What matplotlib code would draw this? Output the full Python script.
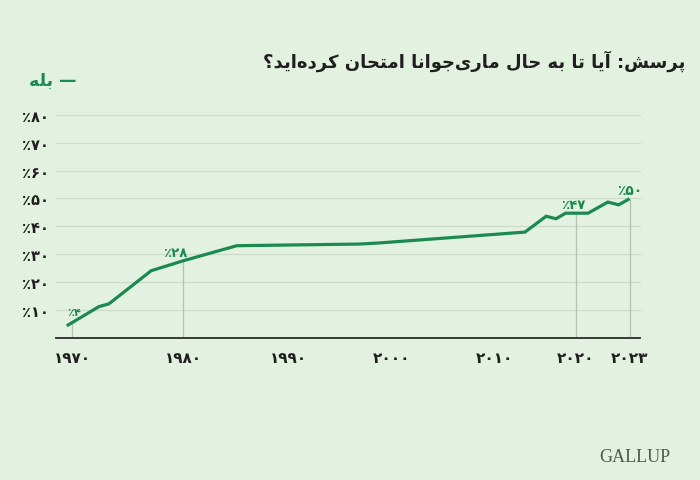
import numpy as np
import matplotlib
matplotlib.use("Agg")
import matplotlib.pyplot as plt

# ---------------- data ----------------
years = [1969.5, 1972.4, 1973.3, 1977.1, 1980.0, 1985.1, 1996.9, 1998.8,
         2013.8, 2016.4, 2017.6, 2018.8, 2020.7, 2021.8, 2022.4, 2023.0]
values = [4.2, 11.1, 12.1, 24.0, 27.6, 33.0, 33.6, 34.0,
          37.9, 43.6, 42.7, 44.7, 44.7, 48.7, 47.7, 49.9]
x_ticks = [1970, 1980, 1990, 2000, 2010, 2020, 2023]
y_ticks = [10, 20, 30, 40, 50, 60, 70, 80]
marker_years = [1970, 1980, 2020, 2023]
annot_years = [1970, 1980, 2020, 2023]
annot_labels = [4, 28, 47, 50]
title_text = "پرسش: آیا تا به حال ماری\u200cجوانا امتحان کرده\u200cاید؟"
legend_text = "بله"
source_text = "GALLUP"

# --------------- Arabic/Persian shaping (no bidi engine in matplotlib) ---------------
FORMS = {
    '\u0621': ('\uFE80', None, None, None),
    '\u0622': ('\uFE81', '\uFE82', None, None),
    '\u0623': ('\uFE83', '\uFE84', None, None),
    '\u0624': ('\uFE85', '\uFE86', None, None),
    '\u0625': ('\uFE87', '\uFE88', None, None),
    '\u0626': ('\uFE89', '\uFE8A', '\uFE8B', '\uFE8C'),
    '\u0627': ('\uFE8D', '\uFE8E', None, None),
    '\u0628': ('\uFE8F', '\uFE90', '\uFE91', '\uFE92'),
    '\u0629': ('\uFE93', '\uFE94', None, None),
    '\u062A': ('\uFE95', '\uFE96', '\uFE97', '\uFE98'),
    '\u062B': ('\uFE99', '\uFE9A', '\uFE9B', '\uFE9C'),
    '\u062C': ('\uFE9D', '\uFE9E', '\uFE9F', '\uFEA0'),
    '\u062D': ('\uFEA1', '\uFEA2', '\uFEA3', '\uFEA4'),
    '\u062E': ('\uFEA5', '\uFEA6', '\uFEA7', '\uFEA8'),
    '\u062F': ('\uFEA9', '\uFEAA', None, None),
    '\u0630': ('\uFEAB', '\uFEAC', None, None),
    '\u0631': ('\uFEAD', '\uFEAE', None, None),
    '\u0632': ('\uFEAF', '\uFEB0', None, None),
    '\u0633': ('\uFEB1', '\uFEB2', '\uFEB3', '\uFEB4'),
    '\u0634': ('\uFEB5', '\uFEB6', '\uFEB7', '\uFEB8'),
    '\u0635': ('\uFEB9', '\uFEBA', '\uFEBB', '\uFEBC'),
    '\u0636': ('\uFEBD', '\uFEBE', '\uFEBF', '\uFEC0'),
    '\u0637': ('\uFEC1', '\uFEC2', '\uFEC3', '\uFEC4'),
    '\u0638': ('\uFEC5', '\uFEC6', '\uFEC7', '\uFEC8'),
    '\u0639': ('\uFEC9', '\uFECA', '\uFECB', '\uFECC'),
    '\u063A': ('\uFECD', '\uFECE', '\uFECF', '\uFED0'),
    '\u0641': ('\uFED1', '\uFED2', '\uFED3', '\uFED4'),
    '\u0642': ('\uFED5', '\uFED6', '\uFED7', '\uFED8'),
    '\u0643': ('\uFED9', '\uFEDA', '\uFEDB', '\uFEDC'),
    '\u0644': ('\uFEDD', '\uFEDE', '\uFEDF', '\uFEE0'),
    '\u0645': ('\uFEE1', '\uFEE2', '\uFEE3', '\uFEE4'),
    '\u0646': ('\uFEE5', '\uFEE6', '\uFEE7', '\uFEE8'),
    '\u0647': ('\uFEE9', '\uFEEA', '\uFEEB', '\uFEEC'),
    '\u0648': ('\uFEED', '\uFEEE', None, None),
    '\u0649': ('\uFEEF', '\uFEF0', None, None),
    '\u064A': ('\uFEF1', '\uFEF2', '\uFEF3', '\uFEF4'),
    '\u067E': ('\uFB56', '\uFB57', '\uFB58', '\uFB59'),
    '\u0686': ('\uFB7A', '\uFB7B', '\uFB7C', '\uFB7D'),
    '\u0698': ('\uFB8A', '\uFB8B', None, None),
    '\u06A9': ('\uFB8E', '\uFB8F', '\uFB90', '\uFB91'),
    '\u06AF': ('\uFB92', '\uFB93', '\uFB94', '\uFB95'),
    '\u06CC': ('\uFBFC', '\uFBFD', '\uFBFE', '\uFBFF'),
}
LAMALEF = {'\u0627': ('\uFEFB', '\uFEFC'), '\u0622': ('\uFEF5', '\uFEF6'),
           '\u0623': ('\uFEF7', '\uFEF8'), '\u0625': ('\uFEF9', '\uFEFA')}


def shape_rtl(text):
    out = []
    n = len(text)
    i = 0
    while i < n:
        c = text[i]
        if c not in FORMS:
            if c != '\u200c':
                out.append(c)
            i += 1
            continue
        prev = text[i - 1] if i > 0 else None
        joins_prev = prev in FORMS and FORMS[prev][2] is not None
        nxt = text[i + 1] if i + 1 < n else None
        if c == '\u0644' and nxt in LAMALEF:
            out.append(LAMALEF[nxt][1 if joins_prev else 0])
            i += 2
            continue
        joins_next = FORMS[c][2] is not None and nxt in FORMS
        iso, fin, ini, med = FORMS[c]
        if joins_prev and joins_next:
            out.append(med)
        elif joins_prev:
            out.append(fin)
        elif joins_next:
            out.append(ini)
        else:
            out.append(iso)
        i += 1
    return ''.join(reversed(out))


FA_DIGITS = str.maketrans('0123456789', '۰۱۲۳۴۵۶۷۸۹')


def fa(n):
    return str(n).translate(FA_DIGITS)


# --------------- styling ---------------
BG = '#e3f1e0'
GREEN = '#1a8a4e'
GRID = '#cddbcb'
DARK = '#1f1f1f'
plt.rcParams['font.family'] = ['DejaVu Sans']

# piecewise axis used by the original infographic (decades are not evenly spaced)
knot_years = np.array([1900, 1970, 1980, 1990, 2000, 2010, 2020, 2023, 2100], float)
knot_pos = np.array([72.3 - 70 * 11.1, 72.3, 183.3, 288, 392, 494, 575.5, 629.5,
                     629.5 + 77 * 18], float)


def fwd(x):
    return np.interp(x, knot_years, knot_pos)


def inv(p):
    return np.interp(p, knot_pos, knot_years)


W, H = 700, 481
fig = plt.figure(figsize=(W / 100, H / 100), dpi=100, facecolor=BG)
ax_left, ax_right = 56, 640
ax_bottom, ax_top = 338.5, 116.0
ax = fig.add_axes([ax_left / W, 1 - ax_bottom / H, (ax_right - ax_left) / W,
                   (ax_bottom - ax_top) / H])
ax.set_facecolor(BG)
ax.set_xscale('function', functions=(fwd, inv))
ax.set_xlim(inv(ax_left), inv(ax_right))
ax.set_ylim(0, 80)

for s in ['top', 'right', 'left']:
    ax.spines[s].set_visible(False)
ax.spines['bottom'].set_color('#2b2b2b')
ax.spines['bottom'].set_linewidth(1.3)

for v in y_ticks:
    ax.axhline(v, color=GRID, lw=0.9, zorder=1, clip_on=False)

line_at = np.interp(marker_years, years, values)
for yr, top in zip(marker_years, line_at):
    ax.plot([yr, yr], [0, top], color='#b4c1b3', lw=0.9, zorder=2)

ax.plot(years, values, color=GREEN, lw=2.3, zorder=3, solid_joinstyle='miter',
        solid_capstyle='butt')

ax.set_yticks(y_ticks)
ax.set_yticklabels(['٪' + fa(v) for v in y_ticks])
ax.set_xticks(x_ticks)
ax.set_xticklabels([fa(v) for v in x_ticks])
ax.tick_params(axis='y', length=0, pad=5, labelsize=10.5, labelcolor=DARK)
ax.tick_params(axis='x', length=0, pad=9, labelsize=11, labelcolor=DARK)
for lab in ax.get_yticklabels() + ax.get_xticklabels():
    lab.set_fontweight('bold')

annot_line = np.interp(annot_years, years, values)
offsets = [(2, 11), (-8, 8), (-2, 9), (0, 9)]
sizes = [8, 9.5, 9.5, 10]
for yr, yv, lab, off, fs in zip(annot_years, annot_line, annot_labels, offsets, sizes):
    ax.annotate('٪' + fa(lab), xy=(yr, yv), xytext=off, textcoords='offset pixels',
                ha='center', va='center', color=GREEN, fontsize=fs,
                fontweight='bold', zorder=4)

fig.text(685 / W, 1 - 61 / H, shape_rtl(title_text), ha='right', va='center',
         fontsize=13, fontweight='bold', color=DARK)
fig.text(29 / W, 1 - 81 / H, shape_rtl(legend_text) + ' —', ha='left', va='center',
         fontsize=12.5, fontweight='bold', color=GREEN)
fig.text(670 / W, 1 - 458 / H, source_text, ha='right', va='center',
         fontsize=13, family='Liberation Serif', color='#4d5a50')

fig.savefig('out.png', dpi=100, facecolor=BG)
